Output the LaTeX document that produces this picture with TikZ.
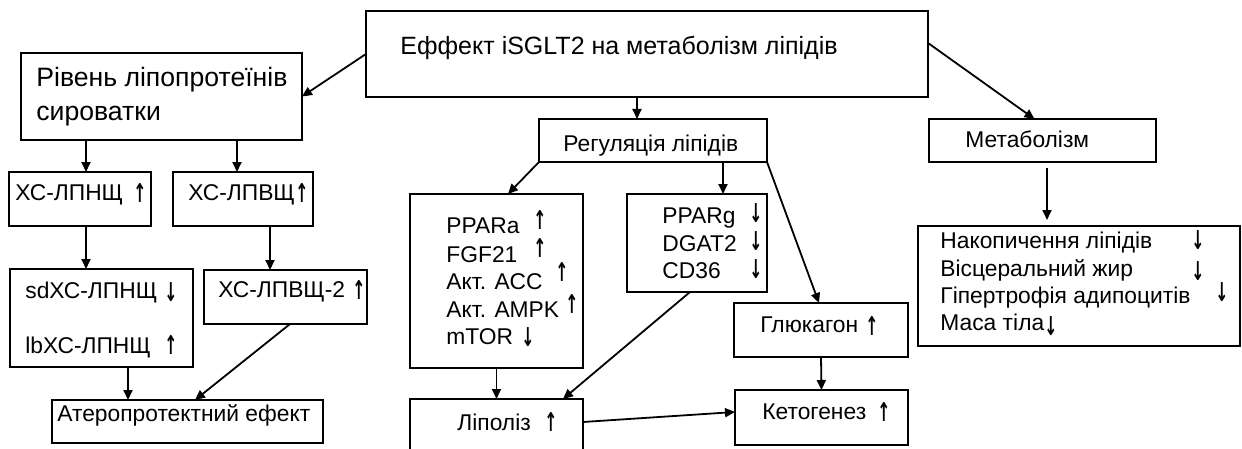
\documentclass[tikz,border=0pt]{standalone}
\usepackage{fontspec}
\setmainfont{Liberation Sans}
\newfontfamily\symfont{DejaVu Sans}
\usetikzlibrary{calc,arrows.meta}

% rectangle given by its two corners (pixel grid)
\newcommand\cornerbox[5]{%
  \node[box, minimum width={(#4-#2)*0.5pt}, minimum height={(#5-#3)*0.5pt}]
    (#1) at ({(#2+#4)/2},{(#3+#5)/2}) {};}

\begin{document}
\begin{tikzpicture}[x=0.5pt, y=-0.5pt,
  box/.style={draw, line width=0.9pt, inner sep=0pt, outer sep=0pt},
  txt/.style={inner sep=0pt, anchor=base west, font=\fontsize{11.4}{13}\selectfont},
  big/.style={txt, font=\fontsize{12.5}{15}\selectfont},
  up/.style={inner sep=0pt, font=\symfont\bfseries\fontsize{13}{13}\selectfont, xscale=0.6},
  arr/.style={line width=0.9pt, -{Triangle[length=5pt,width=4.5pt]}}]
\useasboundingbox (0,0) rectangle (1242,449);
\clip (0,0) rectangle (1242,449);

% boxes
\cornerbox{title}{366}{11}{928}{97}
\cornerbox{riv}{21}{53}{302}{140}
\cornerbox{ldl}{9}{172}{151}{226}
\cornerbox{hdl}{173}{172}{313}{226}
\cornerbox{sd}{10}{269}{193}{367}
\cornerbox{hdlb}{204}{270}{367}{324}
\cornerbox{ath}{52}{400}{323}{443}
\cornerbox{reg}{539}{119}{767}{162}
\cornerbox{ppara}{410}{194}{583}{368}
\cornerbox{pparg}{627}{194}{767}{292}
\cornerbox{gluc}{734}{303}{908}{357}
\cornerbox{keto}{735}{390}{908}{445}
\cornerbox{lip}{410}{399}{583}{470}
\cornerbox{met}{929}{119}{1156}{162}
\cornerbox{acc}{918}{226}{1240}{346}

% texts
\node[big] (t-title) at (400,55) {Еффект iSGLT2 на метаболізм ліпідів};
\node[big, font=\fontsize{13.3}{15}\selectfont] (t-riv1) at (36,87) {Рівень ліпопротеїнів};
\node[big, font=\fontsize{13.3}{15}\selectfont] (t-riv2) at (36,120) {сироватки};
\node[txt] (t-ldl) at (15,200) {ХС-ЛПНЩ};
\node[txt] (t-hdl) at (188,200) {ХС-ЛПВЩ};
\node[txt] (t-sd) at (25,298) {sdХС-ЛПНЩ};
\node[txt] (t-lb) at (25,353) {lbХС-ЛПНЩ};
\node[txt] (t-hdlb) at (218,297) {ХС-ЛПВЩ-2};
\node[txt] (t-ath) at (57,421) {Атеропротектний ефект};
\node[txt] (t-reg) at (563,151) {Регуляція ліпідів};
\node[txt] (t-ppara) at (446,233) {PPARa};
\node[txt] (t-fgf) at (446,262) {FGF21};
\node[txt] (t-accc) at (446,289) {Акт. ACC};
\node[txt] (t-ampk) at (446,317) {Акт. AMPK};
\node[txt] (t-mtor) at (446,344) {mTOR};
\node[txt] (t-pparg) at (662,223) {PPARg};
\node[txt] (t-dgat) at (662,251) {DGAT2};
\node[txt] (t-cd) at (662,278) {CD36};
\node[txt] (t-gluc) at (760,332) {Глюкагон};
\node[txt] (t-keto) at (762,419) {Кетогенез};
\node[txt] (t-lip) at (457,430) {Ліполіз};
\node[txt] (t-met) at (965,148) {Метаболізм};
\node[txt] (t-acc1) at (940,248) {Накопичення ліпідів};
\node[txt] (t-acc2) at (940,276) {Вісцеральний жир};
\node[txt] (t-acc3) at (940,303) {Гіпертрофія адипоцитів};
\node[txt] (t-acc4) at (940,330) {Маса тіла};

% change markers
\node[up] (u1) at (140,193) {↑};
\node[up] (u2) at (302,193) {↑};
\node[up] (u3) at (171,292) {↓};
\node[up] (u4) at (171,345) {↑};
\node[up] (u5) at (359,290) {↑};
\node[up] (u6) at (540,220) {↑};
\node[up] (u7) at (540,248) {↑};
\node[up] (u8) at (562,272) {↑};
\node[up] (u9) at (572,304) {↑};
\node[up] (u10) at (528,337) {↓};
\node[up] (u11) at (756,213) {↓};
\node[up] (u12) at (756,241) {↓};
\node[up] (u13) at (756,269) {↓};
\node[up] (u14) at (872,326) {↑};
\node[up] (u15) at (884,412) {↑};
\node[up] (u16) at (551,422) {↑};
\node[up] (u17) at (1198,240) {↓};
\node[up] (u18) at (1198,271) {↓};
\node[up] (u19) at (1222,292) {↓};
\node[up] (u20) at (1051,326) {↓};

% connector end points
\coordinate (e-ldl) at ($(ldl.north)+(6,0)$);
\coordinate (e-hdl) at ($(hdl.north)+(-6,0)$);
\coordinate (e-sd) at ($(sd.north)+(-15.5,0)$);
\coordinate (e-hdlb) at ($(hdlb.north)+(-15.5,0)$);
\coordinate (e-ath) at ($(ath.north)+(-59.5,0)$);
\coordinate (e-reg) at ($(reg.north)+(-16,0)$);
\coordinate (e-pparg) at ($(pparg.north)+(26,0)$);
\coordinate (e-met) at ($(met.south)+(4.5,0)$);

% connectors
\draw[arr] (title.west) -- (riv.east);
\draw[arr] (title.south -| e-reg) -- (e-reg);
\draw[arr] ($(title.east)+(0,-11)$) -- ($(met.north)+(-8,0)$);
\draw[arr] (riv.south -| e-ldl) -- (e-ldl);
\draw[arr] (riv.south -| e-hdl) -- (e-hdl);
\draw[arr] (ldl.south -| e-sd) -- (e-sd);
\draw[arr] (hdl.south -| e-hdlb) -- (e-hdlb);
\draw[arr] (sd.south -| e-ath) -- (e-ath);
\draw[arr] ($(hdlb.south)+(4.5,0)$) -- ($(ath.north)+(7.5,0)$);
\draw[arr] (reg.south west) -- ($(ppara.north)+(11.5,0)$);
\draw[arr] (reg.south -| e-pparg) -- (e-pparg);
\draw[arr] (reg.south east) -- ($(gluc.north)+(-2,0)$);
\draw[arr] (ppara.south) -- (lip.north);
\draw[arr] ($(pparg.south)+(-7,0)$) -- ($(lip.north)+(66.5,0)$);
\draw[arr] ($(lip.east)+(0,-12.5)$) -- ($(keto.west)+(0,-5.5)$);
\draw[arr] (gluc.south) -- (keto.north);
\draw[arr, shorten <=3pt, shorten >=3pt] (e-met) -- (acc.north -| e-met);
\end{tikzpicture}
\end{document}
